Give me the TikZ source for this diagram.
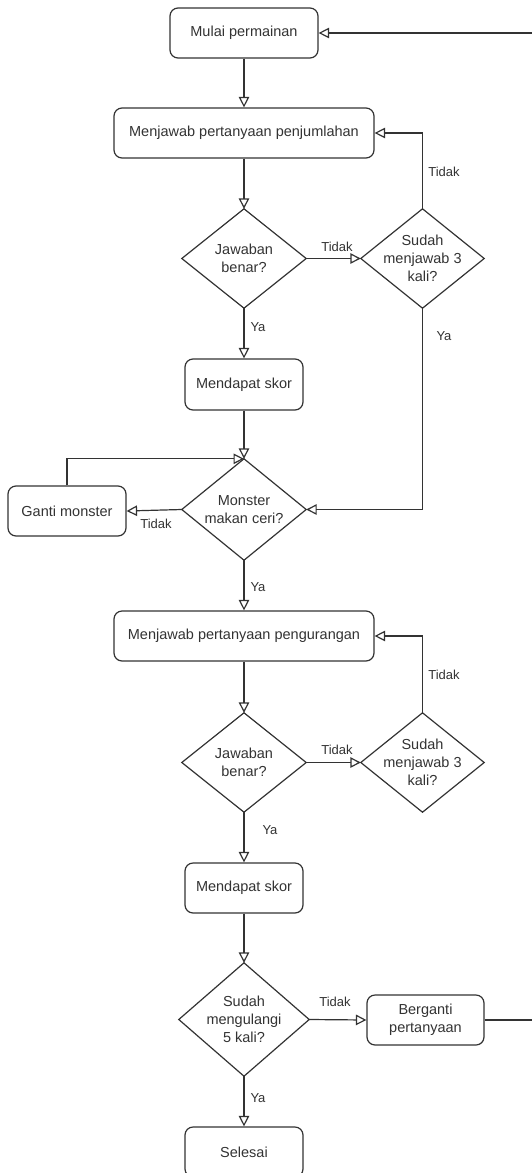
\documentclass[tikz,border=0pt]{standalone}
\usepackage{fontspec}
\setmainfont{Liberation Sans}
\usetikzlibrary{arrows.meta}
\definecolor{ink}{HTML}{333333}
\tikzset{
  base/.style={font=\fontsize{14.5}{18}\selectfont, text=ink, align=center, inner sep=0pt},
  box/.style={base, draw=ink, line width=1.2pt, rounded corners=8pt},
  dia/.style={base},
  conn/.style={draw=ink, line width=1.2pt, -{Triangle[open, length=10.5pt, width=10.5pt]}},
  plain/.style={draw=ink, line width=1.2pt},
  lbl/.style={font=\fontsize{13}{15}\selectfont, text=ink, inner sep=0pt},
}
\begin{document}
\begin{tikzpicture}[x=1pt, y=-1pt]
\useasboundingbox (0,0) rectangle (531,1173);
\fill[white] (0,0) rectangle (531,1173);

% boxes
\node[box, minimum width=148pt, minimum height=50pt] (m1) at (244,33) {Mulai permainan};
\node[box, minimum width=260pt, minimum height=50pt] (q1) at (244,133) {Menjawab pertanyaan penjumlahan};
\node[box, minimum width=118pt, minimum height=51pt] (s1) at (244,384.5) {Mendapat skor};
\node[box, minimum width=118pt, minimum height=50pt] (gm) at (67,511) {Ganti monster};
\node[box, minimum width=260pt, minimum height=50pt] (q2) at (244,636) {Menjawab pertanyaan pengurangan};
\node[box, minimum width=118pt, minimum height=50pt] (s2) at (244,888) {Mendapat skor};
\node[box, minimum width=117pt, minimum height=50pt] (bp) at (425.5,1020) {Berganti\\pertanyaan};
\node[box, minimum width=118pt, minimum height=50pt] (se) at (244,1152) {Selesai};

% diamonds (text nodes; outline drawn below)
\node[dia, minimum width=124pt, minimum height=99pt] (d1) at (244,258.5) {Jawaban\\benar?};
\node[dia, minimum width=123pt, minimum height=99pt] (d2) at (422.5,258.5) {Sudah\\menjawab 3\\kali?};
\node[dia, minimum width=124pt, minimum height=101pt] (dm) at (244,509.5) {Monster\\makan ceri?};
\node[dia, minimum width=124pt, minimum height=99pt] (d3) at (244,762.5) {Jawaban\\benar?};
\node[dia, minimum width=123pt, minimum height=99pt] (d4) at (422.5,762.5) {Sudah\\menjawab 3\\kali?};
\node[dia, minimum width=130pt, minimum height=113pt] (d5) at (244,1019.5) {Sudah\\mengulangi\\5 kali?};
\foreach \n in {d1,d2,dm,d3,d4,d5}
  \draw[plain, line join=miter] (\n.north) -- (\n.east) -- (\n.south) -- (\n.west) -- cycle;

% connectors
\draw[conn] (m1) -- (q1);
\draw[conn] (q1) -- (d1.north);
\draw[conn] (d1.east) -- (d2.west);
\draw[conn] (d2.north) |- (q1.east);
\draw[conn] (d1.south) -- (s1.north);
\draw[conn] (d2.south) |- (dm.east);
\draw[conn] (s1.south) -- (dm.north);
\draw[conn] (dm.west) -- (gm.east);
\draw[conn] (gm.north) |- (dm.north);
\draw[conn] (dm.south) -- (q2.north);
\draw[conn] (q2.south) -- (d3.north);
\draw[conn] (d3.east) -- (d4.west);
\draw[conn] (d4.north) |- (q2.east);
\draw[conn] (d3.south) -- (s2.north);
\draw[conn] (s2.south) -- (d5.north);
\draw[conn] (d5.east) -- (bp.west);
\draw[conn] (d5.south) -- (se.north);
\coordinate (loopR) at (545,1020);
\draw[conn] (bp.east) -- (loopR) |- (m1.east);

% labels
\node[lbl] (t1) at (337,247) {Tidak};
\node[lbl] (t2) at (444,172) {Tidak};
\node[lbl] (y1) at (258,327) {Ya};
\node[lbl] (y2) at (444,336) {Ya};
\node[lbl] (t3) at (156,524) {Tidak};
\node[lbl] (y3) at (258,587) {Ya};
\node[lbl] (t4) at (337,750) {Tidak};
\node[lbl] (t5) at (444,675) {Tidak};
\node[lbl] (y4) at (270,830) {Ya};
\node[lbl] (t6) at (335,1002) {Tidak};
\node[lbl] (y5) at (258,1098) {Ya};
\end{tikzpicture}
\end{document}
